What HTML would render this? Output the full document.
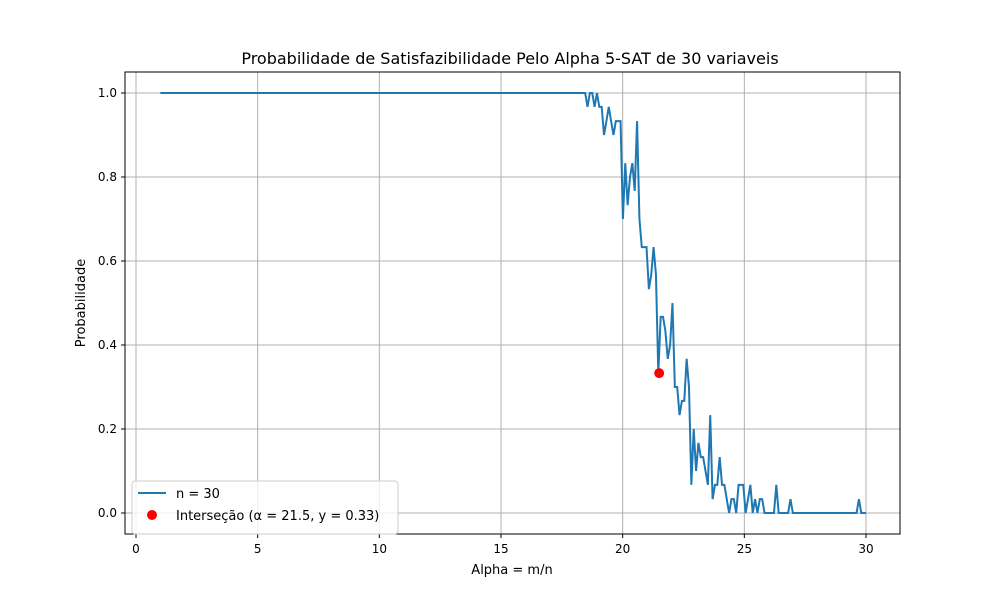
<!DOCTYPE html>
<html><head><meta charset="utf-8"><style>
body{margin:0;background:#fff;font-family:"Liberation Sans","DejaVu Sans",sans-serif;}
svg text{font-family:"DejaVu Sans","Liberation Sans",sans-serif;}
</style></head><body>
<svg id="chart" width="1000" height="600" xmlns="http://www.w3.org/2000/svg">
<rect width="1000" height="600" fill="#fff"/>
<g id="grid"></g>
<g id="ticks"></g>
<rect x="125" y="72" width="775" height="462" fill="none" stroke="#000" stroke-width="1"/>
<polyline id="line" fill="none" stroke="#1f77b4" stroke-width="2"/>
<circle id="dot" r="5" fill="#ff0000"/>
<text x="510" y="64" font-size="16" text-anchor="middle">Probabilidade de Satisfazibilidade Pelo Alpha 5-SAT de 30 variaveis</text>
<text x="512" y="574" font-size="13" text-anchor="middle">Alpha = m/n</text>
<text x="85" y="303" font-size="13" text-anchor="middle" transform="rotate(-90 85 303)">Probabilidade</text>
<g>
<rect x="132" y="481" width="266" height="53" rx="3" fill="#fff" fill-opacity="0.8" stroke="#ccc"/>
<line x1="138" y1="493" x2="166" y2="493" stroke="#1f77b4" stroke-width="2"/>
<text x="176" y="498" font-size="13">n = 30</text>
<circle cx="152" cy="515" r="5" fill="#ff0000"/>
<text x="176" y="520" font-size="13">Interseção (α = 21.5, y = 0.33)</text>
</g>
</svg>
<script>
const xTicks=[0,5,10,15,20,25,30];
const yTicks=[0.0,0.2,0.4,0.6,0.8,1.0];
const xStart=1, xEnd=30, nPoints=300;
const tail=[1,.967,1,1,.967,1,.967,.967,.9,.933,.967,.933,.9,.933,.933,.933,.7,.833,.733,.8,.833,.767,.933,.7,.633,.633,.633,.533,.567,.633,.567,.333,.467,.467,.433,.367,.4,.5,.3,.3,.233,.267,.267,.367,.3,.067,.2,.1,.167,.133,.133,.1,.067,.233,.033,.067,.067,.133,.067,.067,.033,0,.033,.033,0,.067,.067,.067,0,.033,.067,0,.033,0,.033,.033,0,0,0,0,0,.067,0,0,0,0,0,.033,0,0,0,0,0,0,0,0,0,0,0,0,0,0,0,0,0,0,0,0,0,0,0,0,0,0,0,0,.033,0,0,0];
const yValues=new Array(180).fill(1).concat(tail);
const intersect=[21.5,0.333];
const X=v=>136+(v-0)*(866-136)/30;
const Y=v=>513-v*420;
const NS="http://www.w3.org/2000/svg";
const grid=document.getElementById('grid'), ticks=document.getElementById('ticks');
function mk(tag,attrs,parent){const e=document.createElementNS(NS,tag);for(const k in attrs)e.setAttribute(k,attrs[k]);parent.appendChild(e);return e;}
xTicks.forEach(t=>{
 const g=mk('line',{x1:X(t),x2:X(t),y1:72,y2:534,stroke:'#b0b0b0','stroke-width':1},grid);
 
 
 mk('line',{x1:X(t),x2:X(t),y1:534,y2:538,stroke:'#000'},ticks);
 const tx=mk('text',{x:X(t),y:553,'font-size':12,'text-anchor':'middle'},ticks);tx.textContent=t;
 
 
});
yTicks.forEach(t=>{
 const g=mk('line',{x1:125,x2:900,y1:Y(t),y2:Y(t),stroke:'#b0b0b0','stroke-width':1},grid);
 
 
 mk('line',{x1:121,x2:125,y1:Y(t),y2:Y(t),stroke:'#000'},ticks);
 const tx=mk('text',{x:117,y:Y(t)+4,'font-size':12,'text-anchor':'end'},ticks);tx.textContent=t.toFixed(1);
 
 
});
const step=(xEnd-xStart)/(nPoints-1);
document.getElementById('line').setAttribute('points',yValues.map((v,i)=>X(xStart+i*step).toFixed(2)+','+Y(v).toFixed(2)).join(' '));
const d=document.getElementById('dot');d.setAttribute('cx',X(intersect[0]));d.setAttribute('cy',Y(intersect[1]));
</script>
</body></html>
